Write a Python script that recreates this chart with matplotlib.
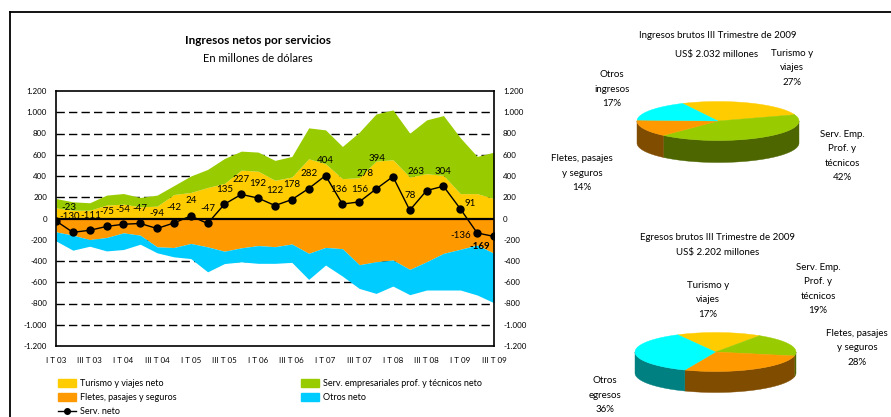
import matplotlib
matplotlib.use('Agg')
import matplotlib.pyplot as plt
import numpy as np
from matplotlib.patches import Polygon, Patch
from matplotlib.lines import Line2D

plt.rcParams['font.family'] = ['Lato', 'DejaVu Sans']

# ---------------- data ----------------
quarters = ['I T 03', 'II T 03', 'III T 03', 'IV T 03',
            'I T 04', 'II T 04', 'III T 04', 'IV T 04',
            'I T 05', 'II T 05', 'III T 05', 'IV T 05',
            'I T 06', 'II T 06', 'III T 06', 'IV T 06',
            'I T 07', 'II T 07', 'III T 07', 'IV T 07',
            'I T 08', 'II T 08', 'III T 08', 'IV T 08',
            'I T 09', 'II T 09', 'III T 09']
turismo = [100, 78, 78, 126, 135, 110, 116, 226, 245, 292, 330, 455, 445,
           360, 390, 562, 515, 375, 384, 540, 553, 390, 422, 406, 234, 234, 188]
serv_emp = [88, 79, 70, 94, 100, 88, 104, 84, 155, 170, 235, 179, 180,
            187, 194, 291, 319, 303, 428, 444, 469, 413, 506, 563, 526, 350, 437]
fletes = [-126, -157, -198, -179, -135, -157, -267, -273, -235, -267, -308, -276, -255,
          -265, -240, -328, -272, -284, -435, -407, -391, -479, -407, -328, -290, -250, -328]
otros = [-85, -141, -63, -126, -157, -85, -56, -88, -142, -235, -116, -132, -167,
         -157, -173, -245, -166, -258, -223, -298, -245, -238, -266, -345, -383, -470, -465]
serv_neto = [-23, -130, -111, -75, -54, -47, -94, -42, 24, -47, 135, 227, 192,
             122, 178, 282, 404, 136, 156, 278, 394, 78, 263, 304, 91, -136, -169]

series_names = ['Turismo y viajes neto', 'Serv. empresariales prof. y técnicos neto',
                'Fletes, pasajes y seguros', 'Otros neto', 'Serv. neto']

pie_cats_ing = ['Turismo y\nviajes', 'Serv. Emp.\nProf. y\ntécnicos',
                'Fletes, pasajes\ny seguros', 'Otros\ningresos']
pie_vals_ing = [27, 42, 14, 17]
pie_cats_egr = ['Turismo y\nviajes', 'Serv. Emp.\nProf. y\ntécnicos',
                'Fletes, pasajes\ny seguros', 'Otros\negresos']
pie_vals_egr = [17, 19, 28, 36]

# ---------------- styling ----------------
W, H = 891, 417
YEL, GRN, ORG, CYN = '#FFCC00', '#99CC00', '#FF9900', '#00CCFF'
PIE_TOP = ['#FFCC00', '#99CC00', '#FF9900', '#00FFFF']
PIE_SIDE = ['#806600', '#4D6600', '#804C00', '#008080']

fig = plt.figure(figsize=(W / 100, H / 100), dpi=100)

def fx(px):
    return px / W

def fy(py):
    return 1 - py / H

# frame lines
fig.add_artist(Line2D([fx(10), 1], [fy(12), fy(12)], color='black', lw=1.3))
fig.add_artist(Line2D([fx(10), fx(10)], [fy(12), 0], color='black', lw=1.3))

ax = fig.add_axes([fx(56), fy(346), fx(494) - fx(56), fy(91) - fy(346)])
x = np.arange(len(quarters))
tur = np.array(turismo)
pos_top = tur + np.array(serv_emp)
fle = np.array(fletes)
neg_bot = fle + np.array(otros)

for v in range(-1000, 1001, 200):
    if v != 0:
        ax.axhline(v, color='black', lw=1.0, ls=(0, (6, 3)), zorder=1)

ax.fill_between(x, 0, tur, color=YEL, lw=0, zorder=2)
ax.fill_between(x, tur, pos_top, color=GRN, lw=0, zorder=2)
ax.fill_between(x, 0, fle, color=ORG, lw=0, zorder=2)
ax.fill_between(x, fle, neg_bot, color=CYN, lw=0, zorder=2)
ax.axhline(0, color='black', lw=1.6, zorder=3)
ax.plot(x, serv_neto, color='black', lw=1.0, marker='o', ms=5, zorder=4)

offsets = {0: (13, 13), 1: (-3, 16), 2: (1, 15), 17: (-4, 15), 18: (0, 12),
           19: (-11, 15), 20: (-16, 18), 22: (-11, 19), 24: (10, 5),
           25: (-16, -3), 26: (-14, -10)}
for i, v in enumerate(serv_neto):
    dx, dy = offsets.get(i, (0, 15))
    ax.annotate(str(v), (x[i], v), xytext=(dx, dy), textcoords='offset pixels',
                ha='center', va='center', fontsize=7,
                fontweight='bold' if i == 26 else 'normal', zorder=5)

ax.set_xlim(0, len(quarters) - 1)
ax.set_ylim(-1200, 1200)
yt = list(range(-1200, 1201, 200))
ax.set_yticks(yt)
ax.set_yticklabels([f'{v:,}'.replace(',', '.') for v in yt])
ax.set_xticks(x[::2])
ax.set_xticklabels(quarters[::2])
ax.tick_params(axis='y', length=0, labelsize=5.8, pad=6.5, labelright=True, right=False)
ax.tick_params(axis='x', length=0, labelsize=5.8, pad=8)
for sp in ax.spines.values():
    sp.set_linewidth(1.2)
    sp.set_color('black')
ax.spines['right'].set_zorder(6)

fig.text(fx(258), fy(40), 'Ingresos netos por servicios', fontsize=8.5,
         fontweight='bold', ha='center', va='center')
fig.text(fx(258), fy(58), 'En millones de dólares', fontsize=8,
         ha='center', va='center')

# legends
h1 = [Patch(color=YEL), Patch(color=ORG),
      Line2D([0], [0], color='black', lw=1, marker='o', ms=4)]
h2 = [Patch(color=GRN), Patch(color=CYN)]
leg_kw = dict(frameon=False, fontsize=6.5, handlelength=2.0, handleheight=0.9,
              labelspacing=0.55, borderpad=0, borderaxespad=0, handletextpad=0.4,
              loc='upper left')
fig.legend(h1, [series_names[0], series_names[2], series_names[4]],
           bbox_to_anchor=(fx(58), fy(379)), **leg_kw)
fig.legend(h2, [series_names[1], series_names[3]],
           bbox_to_anchor=(fx(301), fy(379)), **leg_kw)

# ---------------- 3D-looking pies ----------------
pax = fig.add_axes([0, 0, 1, 1])
pax.set_xlim(0, W)
pax.set_ylim(H, 0)
pax.axis('off')
pax.patch.set_visible(False)

def draw_pie(values, cx, cy, rx, ry, depth, start):
    fr = np.array(values, dtype=float) / sum(values)
    edges = start - 360 * np.concatenate([[0], np.cumsum(fr)])
    for i in range(len(values)):
        a_hi, a_lo = edges[i], edges[i + 1]
        for k in range(-2, 3):
            lo = max(a_lo, 180 + 360 * k)
            hi = min(a_hi, 360 + 360 * k)
            if lo < hi:
                th = np.radians(np.linspace(lo, hi, 80))
                xs = cx + rx * np.cos(th)
                ys = cy - ry * np.sin(th)
                pts = np.vstack([np.column_stack([xs, ys]),
                                 np.column_stack([xs[::-1], ys[::-1] + depth])])
                pax.add_patch(Polygon(pts, closed=True, fc=PIE_SIDE[i],
                                      ec=PIE_SIDE[i], lw=0.3))
    for i in range(len(values)):
        th = np.radians(np.linspace(edges[i + 1], edges[i], 100))
        pts = np.vstack([[cx, cy],
                         np.column_stack([cx + rx * np.cos(th), cy - ry * np.sin(th)])])
        pax.add_patch(Polygon(pts, closed=True, fc=PIE_TOP[i], ec=PIE_TOP[i], lw=0.3))

draw_pie(pie_vals_ing, 718, 121, 81, 19.5, 22, 116)
draw_pie(pie_vals_egr, 715.5, 352, 80.5, 19.5, 21, 118)

pt_kw = dict(fontsize=7, ha='center', va='center')
fig.text(fx(718), fy(35), 'Ingresos brutos III Trimestre de 2009', **pt_kw)
fig.text(fx(717), fy(54), 'US$ 2.032 millones', **pt_kw)
fig.text(fx(718), fy(237), 'Egresos brutos III Trimestre de 2009', **pt_kw)
fig.text(fx(718), fy(253), 'US$ 2.202 millones', **pt_kw)

lab_kw = dict(fontsize=7, ha='center', va='center', linespacing=1.75)
ing_pos = [(792, 68), (842, 156), (582, 173), (612, 89)]
for (px, py), c, v in zip(ing_pos, pie_cats_ing, pie_vals_ing):
    fig.text(fx(px), fy(py), f'{c}\n{v}%', **lab_kw)
egr_pos = [(708, 300), (818, 289), (857, 348), (605, 395)]
for (px, py), c, v in zip(egr_pos, pie_cats_egr, pie_vals_egr):
    fig.text(fx(px), fy(py), f'{c}\n{v}%', **lab_kw)

fig.savefig('out.png', dpi=100)
